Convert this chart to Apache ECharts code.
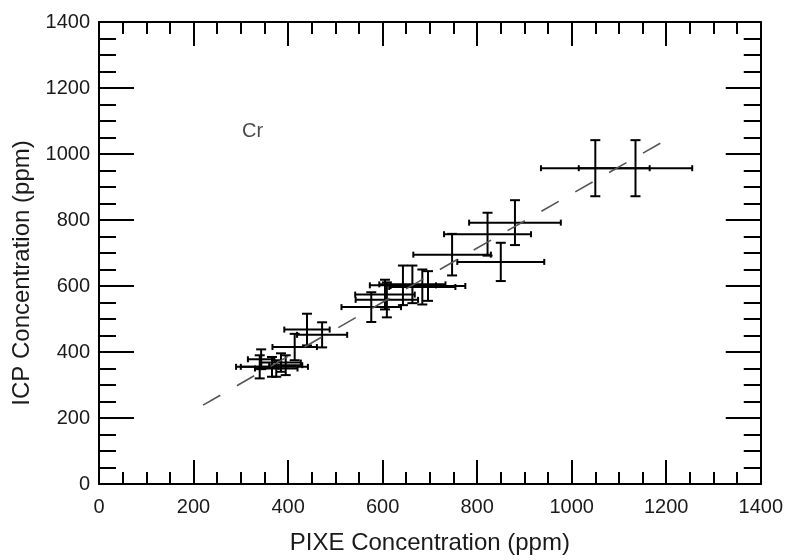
<!DOCTYPE html>
<html>
<head>
<meta charset="utf-8">
<script src="https://cdn.jsdelivr.net/npm/echarts@6/dist/echarts.min.js"></script>
<style>html,body{margin:0;padding:0;background:#fff}#c{width:786px;height:560px}</style>
</head>
<body>
<div id="c"></div>
<script>
// Data (ppm)
const pixe    = [1050, 1135, 880, 822, 850, 747, 643, 663, 684, 696, 605, 609, 576, 472, 440, 414, 366, 343, 385, 340, 375, 395];
const icp     = [ 957,  957, 792, 757, 673, 695, 602, 605, 597, 600, 574, 558, 536, 452, 468, 415, 355, 378, 368, 355, 350, 360];
const pixeErr = [ 115,  120,  97,  92,  92,  82,  70,  70,  70,  79,  63,  66,  63,  53,  48,  47,  76,  28,  42,  40,  45,  35];
const icpErr  = [  85,   85,  68,  65,  58,  63,  60,  57,  53,  45,  45,  53,  45,  38,  48,  40,  30,  30,  28,  35,  25,  30];
const fitX = [220, 1200];
const fitY = [239, 1043];
const xTicks = [0, 200, 400, 600, 800, 1000, 1200, 1400];
const yTicks = [0, 200, 400, 600, 800, 1000, 1200, 1400];
const elementLabel = 'Cr';
const elementPos = [325, 1069];

const FONT = 'Liberation Sans, Arial, Helvetica, sans-serif';
const chart = echarts.init(document.getElementById('c'), null, {renderer: 'canvas'});

function errItem(params, api) {
  const x = api.value(0), y = api.value(1), ex = api.value(2), ey = api.value(3);
  const l = api.coord([x - ex, y]), r = api.coord([x + ex, y]);
  const t = api.coord([x, y + ey]), b = api.coord([x, y - ey]);
  const st = {stroke: '#000', lineWidth: 2};
  const capV = 5, capH = 3;
  return {
    type: 'group',
    children: [
      {type: 'line', shape: {x1: l[0], y1: l[1], x2: r[0], y2: r[1]}, style: st},
      {type: 'line', shape: {x1: l[0], y1: l[1] - capH, x2: l[0], y2: l[1] + capH}, style: st},
      {type: 'line', shape: {x1: r[0], y1: r[1] - capH, x2: r[0], y2: r[1] + capH}, style: st},
      {type: 'line', shape: {x1: t[0], y1: t[1], x2: b[0], y2: b[1]}, style: st},
      {type: 'line', shape: {x1: t[0] - capV, y1: t[1], x2: t[0] + capV, y2: t[1]}, style: st},
      {type: 'line', shape: {x1: b[0] - capV, y1: b[1], x2: b[0] + capV, y2: b[1]}, style: st}
    ]
  };
}

function axisCommon(isX, showLabel, pos, ticks) {
  const major = isX ? 24 : 35, minor = isX ? 12 : 17;
  return {
    type: 'value', position: pos,
    min: ticks[0], max: ticks[ticks.length - 1], interval: ticks[1] - ticks[0],
    axisLine: {show: true, onZero: false, lineStyle: {color: '#000', width: 2}},
    axisTick: {show: true, inside: true, length: major, lineStyle: {color: '#000', width: 2}},
    minorTick: {show: true, splitNumber: 4, length: minor, lineStyle: {color: '#000', width: 2}},
    splitLine: {show: false},
    axisLabel: {show: showLabel, color: '#1a1a1a', fontSize: 20, fontFamily: FONT, margin: isX ? 13 : 9,
                formatter: v => String(v)}
  };
}

const xb = axisCommon(true, true, 'bottom', xTicks);
xb.name = 'PIXE Concentration (ppm)';
xb.nameLocation = 'middle';
xb.nameGap = 47;
xb.nameTextStyle = {fontSize: 24, color: '#1a1a1a', fontFamily: FONT};
const xt = axisCommon(true, false, 'top', xTicks);
const yl = axisCommon(false, true, 'left', yTicks);
yl.name = 'ICP Concentration (ppm)';
yl.nameLocation = 'middle';
yl.nameGap = 60;
yl.nameTextStyle = {fontSize: 24, color: '#1a1a1a', fontFamily: FONT, padding: [0, 40, 0, 0]};
const yr = axisCommon(false, false, 'right', yTicks);

chart.setOption({
  animation: false,
  backgroundColor: '#fff',
  grid: {left: 99, right: 24, top: 22, bottom: 75, containLabel: false},
  xAxis: [xb, xt],
  yAxis: [yl, yr],
  series: [
    {
      type: 'line', xAxisIndex: 0, yAxisIndex: 0,
      data: fitX.map((v, i) => [v, fitY[i]]),
      symbol: 'none', silent: true,
      lineStyle: {color: '#555', width: 1.6, type: [20, 19]}
    },
    {
      type: 'custom', xAxisIndex: 0, yAxisIndex: 0,
      renderItem: errItem,
      encode: {x: 0, y: 1},
      data: pixe.map((v, i) => [v, icp[i], pixeErr[i], icpErr[i]])
    },
    {
      type: 'scatter', xAxisIndex: 0, yAxisIndex: 0,
      data: [elementPos], symbolSize: 0, silent: true,
      label: {show: true, position: 'inside', formatter: elementLabel, fontSize: 20, color: '#1a1a1a', fontFamily: FONT}
    }
  ]
});
</script>
</body>
</html>
